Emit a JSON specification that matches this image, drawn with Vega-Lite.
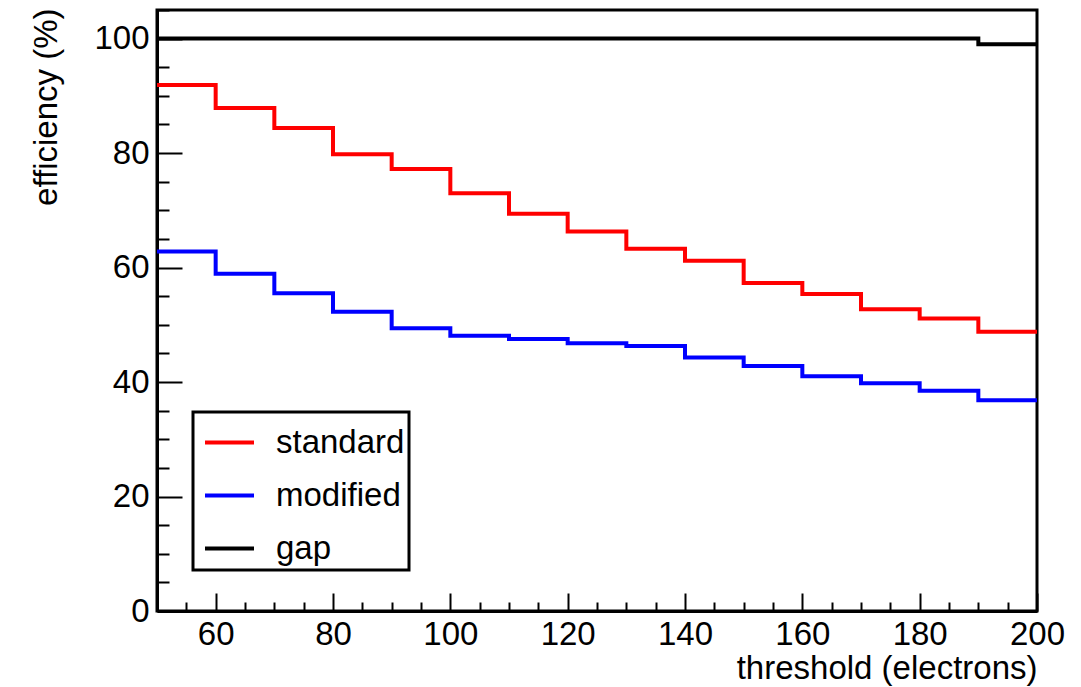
{
  "$schema": "https://vega.github.io/schema/vega-lite/v6.json",
  "width": 880,
  "height": 601,
  "autosize": {"type": "none"},
  "padding": {"left": 157, "top": 10, "right": 44, "bottom": 76},
  "background": "white",
  "config": {
    "view": {"stroke": "black", "strokeWidth": 3},
    "font": "Liberation Sans",
    "axis": {
      "domainColor": "black",
      "domainWidth": 3,
      "tickColor": "black",
      "tickWidth": 2,
      "grid": false,
      "labelFont": "Liberation Sans",
      "labelFontSize": 33,
      "labelColor": "black",
      "titleFont": "Liberation Sans",
      "titleFontSize": 33,
      "titleFontWeight": "normal",
      "titleColor": "black"
    }
  },
  "data": {
    "values": [
      {"series": "gap", "x": 50, "y": 100},
      {"series": "gap", "x": 60, "y": 100},
      {"series": "gap", "x": 70, "y": 100},
      {"series": "gap", "x": 80, "y": 100},
      {"series": "gap", "x": 90, "y": 100},
      {"series": "gap", "x": 100, "y": 100},
      {"series": "gap", "x": 110, "y": 100},
      {"series": "gap", "x": 120, "y": 100},
      {"series": "gap", "x": 130, "y": 100},
      {"series": "gap", "x": 140, "y": 100},
      {"series": "gap", "x": 150, "y": 100},
      {"series": "gap", "x": 160, "y": 100},
      {"series": "gap", "x": 170, "y": 100},
      {"series": "gap", "x": 180, "y": 100},
      {"series": "gap", "x": 190, "y": 99.0},
      {"series": "gap", "x": 200, "y": 99.0},
      {"series": "standard", "x": 50, "y": 91.9},
      {"series": "standard", "x": 60, "y": 87.9},
      {"series": "standard", "x": 70, "y": 84.4},
      {"series": "standard", "x": 80, "y": 79.8},
      {"series": "standard", "x": 90, "y": 77.2},
      {"series": "standard", "x": 100, "y": 73.0},
      {"series": "standard", "x": 110, "y": 69.4},
      {"series": "standard", "x": 120, "y": 66.3},
      {"series": "standard", "x": 130, "y": 63.3},
      {"series": "standard", "x": 140, "y": 61.2},
      {"series": "standard", "x": 150, "y": 57.3},
      {"series": "standard", "x": 160, "y": 55.4},
      {"series": "standard", "x": 170, "y": 52.7},
      {"series": "standard", "x": 180, "y": 51.1},
      {"series": "standard", "x": 190, "y": 48.8},
      {"series": "standard", "x": 200, "y": 48.8},
      {"series": "modified", "x": 50, "y": 62.8},
      {"series": "modified", "x": 60, "y": 58.9},
      {"series": "modified", "x": 70, "y": 55.5},
      {"series": "modified", "x": 80, "y": 52.3},
      {"series": "modified", "x": 90, "y": 49.4},
      {"series": "modified", "x": 100, "y": 48.1},
      {"series": "modified", "x": 110, "y": 47.5},
      {"series": "modified", "x": 120, "y": 46.8},
      {"series": "modified", "x": 130, "y": 46.3},
      {"series": "modified", "x": 140, "y": 44.3},
      {"series": "modified", "x": 150, "y": 42.8},
      {"series": "modified", "x": 160, "y": 41.0},
      {"series": "modified", "x": 170, "y": 39.8},
      {"series": "modified", "x": 180, "y": 38.5},
      {"series": "modified", "x": 190, "y": 36.8},
      {"series": "modified", "x": 200, "y": 36.8}
    ]
  },
  "mark": {"type": "line", "interpolate": "step-after", "strokeWidth": 4, "clip": true},
  "encoding": {
    "x": {
      "field": "x",
      "type": "quantitative",
      "scale": {"domain": [50, 200], "nice": false, "zero": false},
      "axis": {
        "title": "threshold (electrons)",
        "values": [50, 55, 60, 65, 70, 75, 80, 85, 90, 95, 100, 105, 110, 115, 120, 125, 130, 135, 140, 145, 150, 155, 160, 165, 170, 175, 180, 185, 190, 195, 200],
        "labelExpr": "datum.value % 20 === 0 ? datum.label : ''",
        "tickSize": {"condition": {"test": "datum.value % 20 === 0", "value": -18}, "value": -9},
        "labelPadding": 25,
        "labelFlush": false,
        "titleAnchor": "end",
        "titleAlign": "right",
        "titleBaseline": "alphabetic",
        "titleX": 880,
        "titleY": 67
      }
    },
    "y": {
      "field": "y",
      "type": "quantitative",
      "scale": {"domain": [0, 105], "nice": false},
      "axis": {
        "title": "efficiency (%)",
        "values": [0, 5, 10, 15, 20, 25, 30, 35, 40, 45, 50, 55, 60, 65, 70, 75, 80, 85, 90, 95, 100, 105],
        "labelExpr": "datum.value % 20 === 0 ? datum.label : ''",
        "tickSize": {"condition": {"test": "datum.value % 20 === 0", "value": -25}, "value": -12},
        "labelPadding": 33,
        "labelFlush": false,
        "titleAngle": -90,
        "titleAnchor": "end",
        "titleAlign": "right",
        "titleBaseline": "alphabetic",
        "titleX": -101,
        "titleY": -2
      }
    },
    "color": {
      "field": "series",
      "type": "nominal",
      "scale": {"domain": ["standard", "modified", "gap"], "range": ["#ff0000", "#0000ff", "#000000"]},
      "legend": {
        "title": null,
        "orient": "none",
        "legendX": 36,
        "legendY": 402,
        "symbolType": "stroke",
        "symbolSize": 2401,
        "symbolStrokeWidth": 4,
        "symbolOffset": 6,
        "labelFont": "Liberation Sans",
        "labelFontSize": 33,
        "labelColor": "black",
        "labelOffset": 20,
        "rowPadding": 9,
        "padding": 4,
        "strokeColor": "black",
        "fillColor": "white",
        "encode": {"legend": {"update": {"strokeWidth": {"value": 3}}}}
      }
    }
  }
}
